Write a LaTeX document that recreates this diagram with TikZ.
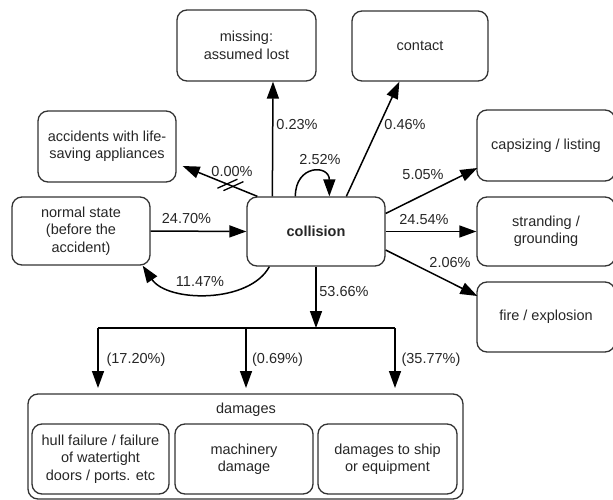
\documentclass[tikz,border=0pt]{standalone}
\usepackage{fontspec}
\setmainfont{Liberation Sans}
\usetikzlibrary{arrows.meta,calc}
\tikzset{
  box/.style={draw=black!80, line width=1.3pt, rounded corners=10pt, inner sep=0pt,
    align=center, font=\fontsize{14.5}{17.5}\selectfont, text=black!85},
  arr/.style={line width=1.5pt, -{Triangle[length=17pt,width=12pt]}},
  lbl/.style={font=\fontsize{14.5}{17.5}\selectfont, text=black!85, inner sep=0pt},
}
\begin{document}
\begin{tikzpicture}[x=1pt,y=-1pt]
\useasboundingbox (0,0) rectangle (613,500);
% boxes
\node[box, minimum width=139pt, minimum height=71pt] (miss) at (246.5,45.5) {missing:\\assumed lost};
\node[box, minimum width=136pt, minimum height=70pt] (cont) at (420,46) {contact};
\node[box, minimum width=138pt, minimum height=71pt] (life) at (107,146.5) {accidents with life-\\saving appliances};
\node[box, minimum width=138pt, minimum height=68pt] (norm) at (81,231) {normal state\\(before the\\accident)};
\node[box, minimum width=138pt, minimum height=69pt] (coll) at (316,231.5) {\bfseries collision};
\node[box, minimum width=138pt, minimum height=71pt] (caps) at (546,145.5) {capsizing / listing};
\node[box, minimum width=138pt, minimum height=69pt] (strd) at (546,231.5) {stranding /\\grounding};
\node[box, minimum width=138pt, minimum height=70pt] (fire) at (546,317) {fire / explosion};
\node[box, minimum width=435pt, minimum height=105pt] (dam) at (245.5,446.5) {};
\node[lbl] (damlbl) at (246,410) {damages};
\node[box, minimum width=137pt, minimum height=70pt] (hull) at (100.5,459) {hull failure / failure\\of watertight\\doors / ports. etc};
\node[box, minimum width=138pt, minimum height=70pt] (mach) at (244,459) {machinery\\damage};
\node[box, minimum width=139pt, minimum height=70pt] (ship) at (387.5,459) {damages to ship\\or equipment};

% connectors
\draw[arr] (norm.east) -- (coll.west);
\draw[arr] ($(coll.south west)+(23,0)$) .. controls +(-20,37) and +(25,37) .. ($(norm.south east)+(-8,0)$);
\draw[arr] ($(coll.north west)+(26,0)$) -- ($(miss.south)+(26.5,0)$);
\draw[arr] ($(coll.north west)+(100,0)$) -- ($(cont.south west)+(48,0)$);
\draw[arr] ($(coll.north west)+(11,0)$) coordinate (lifes) -- ($(life.east)+(6,19.5)$) coordinate (lifee);
\draw[line width=1.3pt] ($(lifes)!0.32!(lifee)+(-10,4)$) -- ++(20,-9)
                        ($(lifes)!0.40!(lifee)+(-10,4)$) -- ++(20,-9);
\draw[arr] ($(coll.north west)+(49,0)$) .. controls +(0,-32) and +(0,-32) .. ($(coll.north west)+(83,0)$);
\draw[arr] ($(coll.east)+(0,-18)$) -- ($(caps.west)+(1,22.5)$);
\draw[arr] (coll.east) -- (strd.west);
\draw[arr] ($(coll.east)+(0,18.5)$) -- ($(fire.west)+(1,-21)$);

\coordinate (bar) at (coll.south |- 0,328);
\coordinate (bl) at (98,328);
\coordinate (bm) at (246,328);
\coordinate (br) at (395,328);
\coordinate (tl) at (98,388);
\coordinate (tm) at (246,388);
\coordinate (tr) at (395,388);
\draw[arr] (coll.south) -- (bar);
\draw[line width=1.5pt] (bl) -- (br);
\draw[arr] (bl) -- (tl);
\draw[arr] (bm) -- (tm);
\draw[arr] (br) -- (tr);

% labels
\node[lbl] at (186.5,219) {24.70\%};
\node[lbl] at (200,282) {11.47\%};
\node[lbl] at (232,172) {0.00\%};
\node[lbl] at (297,125) {0.23\%};
\node[lbl] at (405,125) {0.46\%};
\node[lbl] at (320,160) {2.52\%};
\node[lbl] at (423,175) {5.05\%};
\node[lbl] at (424,220) {24.54\%};
\node[lbl] at (450,263) {2.06\%};
\node[lbl] at (344,292) {53.66\%};
\node[lbl] at (136,360) {(17.20\%)};
\node[lbl] at (277.5,360) {(0.69\%)};
\node[lbl] at (431,360) {(35.77\%)};
\end{tikzpicture}
\end{document}
